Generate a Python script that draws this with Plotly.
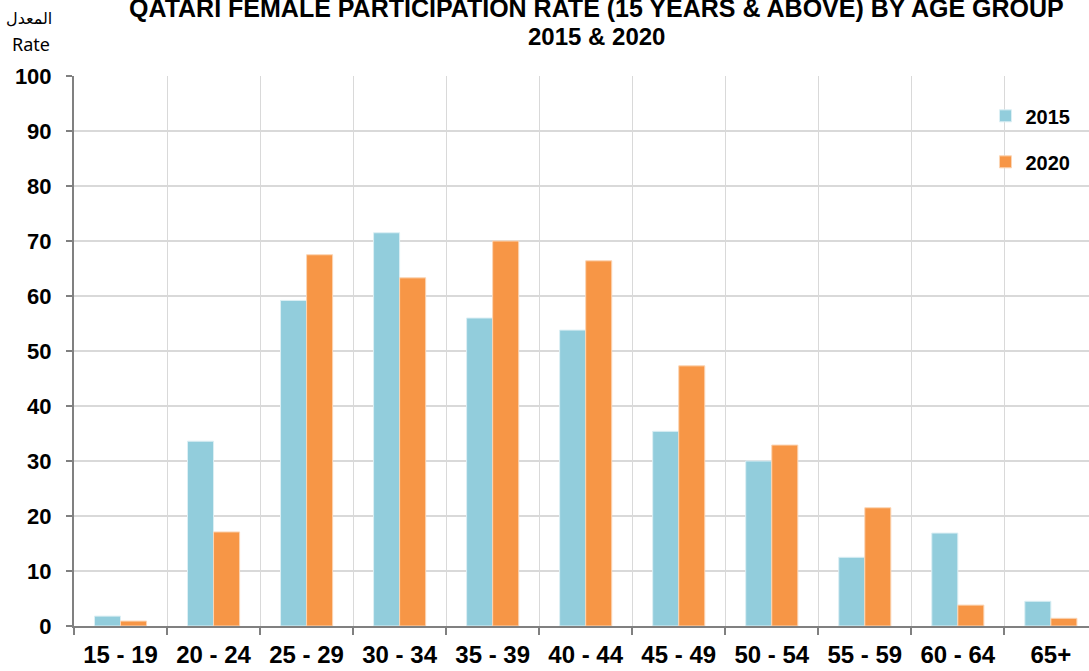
import plotly.graph_objects as go

categories = ["15 - 19", "20 - 24", "25 - 29", "30 - 34", "35 - 39", "40 - 44",
              "45 - 49", "50 - 54", "55 - 59", "60 - 64", "65+"]
rate_2015 = [1.8, 33.6, 59.2, 71.5, 56.0, 53.8, 35.4, 30.0, 12.5, 16.9, 4.5]
rate_2020 = [0.9, 17.1, 67.5, 63.3, 70.0, 66.4, 47.3, 32.9, 21.5, 3.8, 1.4]
y_ticks = [0, 10, 20, 30, 40, 50, 60, 70, 80, 90, 100]

FONT = "Liberation Sans, Arial, sans-serif"

fig = go.Figure()
fig.add_trace(go.Bar(x=categories, y=rate_2015, name="2015", legendgroup="a",
                     marker=dict(color="#92CDDC", line=dict(color="#DCEFF4", width=1))))
fig.add_trace(go.Bar(x=categories, y=rate_2020, name="2020", legendgroup="b",
                     marker=dict(color="#F79646", line=dict(color="#FBD5B5", width=1))))

fig.update_layout(
    width=1089, height=671,
    margin=dict(l=74, r=0, t=76, b=45, autoexpand=False),
    paper_bgcolor="white", plot_bgcolor="white",
    barmode="group", bargap=0.44, bargroupgap=0,
    font=dict(family=FONT, color="black"),
    legend=dict(x=0.898, y=0.963, xanchor="left", yanchor="top",
                font=dict(size=20, weight="bold"), tracegroupgap=17,
                bgcolor="rgba(0,0,0,0)", itemwidth=30),
    showlegend=True,
)
fig.update_xaxes(
    range=[-0.5, 10.41], tickson="boundaries", ticks="outside", ticklen=7,
    tickcolor="#808080", tickwidth=2,
    showline=True, linecolor="#808080", linewidth=2,
    showgrid=True, gridcolor="#D9D9D9", gridwidth=1,
    tickfont=dict(size=24, weight="bold"), ticklabelstandoff=6,
)
fig.update_yaxes(
    range=[0, 100], tickvals=y_ticks, ticks="outside", ticklen=6,
    tickcolor="#808080", tickwidth=2,
    showline=True, linecolor="#808080", linewidth=2,
    showgrid=True, gridcolor="#D9D9D9", gridwidth=1.5, zeroline=False,
    tickfont=dict(size=22, weight="bold"), ticklabelstandoff=10,
)
# title lines
fig.add_annotation(text="QATARI FEMALE PARTICIPATION RATE (15 YEARS & ABOVE) BY AGE GROUP",
                   xref="paper", yref="paper", x=0.515, y=1.1236, xanchor="center",
                   yanchor="middle", showarrow=False,
                   font=dict(size=25, weight="bold", family=FONT))
fig.add_annotation(text="2015 & 2020",
                   xref="paper", yref="paper", x=0.515, y=1.0727, xanchor="center",
                   yanchor="middle", showarrow=False,
                   font=dict(size=24, weight="bold", family=FONT))
# axis unit labels
fig.add_annotation(text="المعدل", xref="paper", yref="paper", x=-0.0443, y=1.1055,
                   xanchor="center", yanchor="middle", showarrow=False,
                   font=dict(size=16, family="Noto Sans, DejaVu Sans"))
fig.add_annotation(text="Rate", xref="paper", yref="paper", x=-0.0424, y=1.058,
                   xanchor="center", yanchor="middle", showarrow=False,
                   font=dict(size=18, family="Noto Sans, DejaVu Sans"))

fig.write_html("out.html", config={"displayModeBar": False},
               post_script="document.body.style.margin='0';document.body.style.padding='0';")
